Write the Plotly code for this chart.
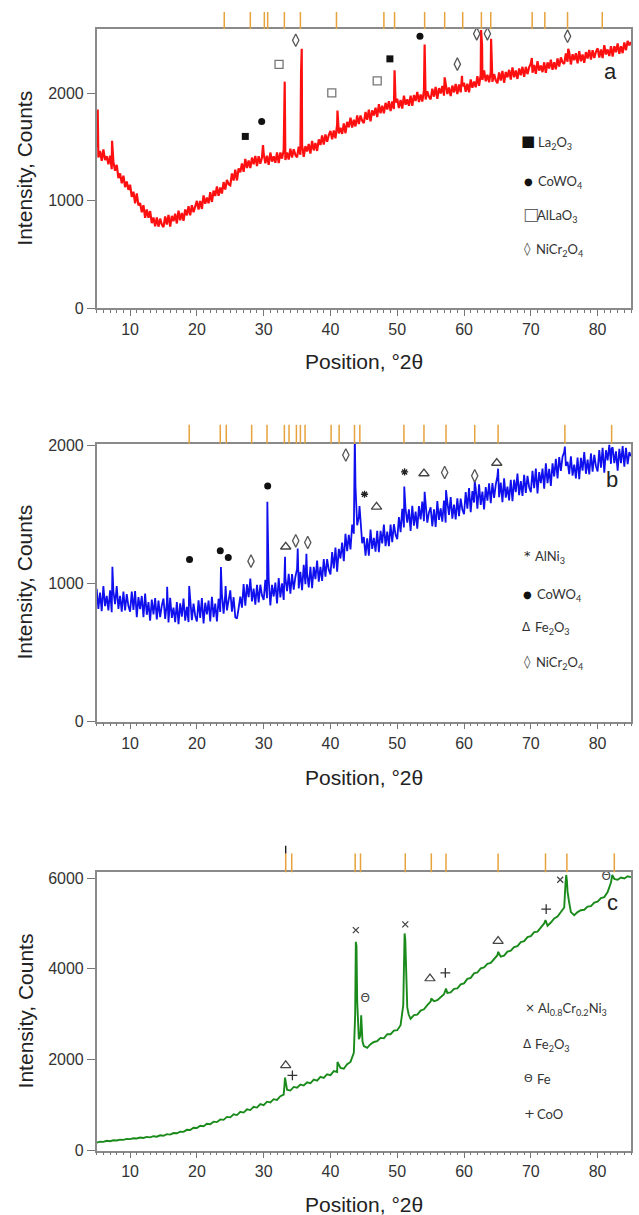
import plotly.graph_objects as go

# ---------------- data ----------------
# fine 0.25 deg scan positions (panels a, b)
grid_fine = [5.0, 5.25, 5.5, 5.75, 6.0, 6.25, 6.5, 6.75, 7.0, 7.25, 7.5, 7.75, 8.0, 8.25, 8.5, 8.75, 9.0, 9.25, 9.5, 9.75,
             10.0, 10.25, 10.5, 10.75, 11.0, 11.25, 11.5, 11.75, 12.0, 12.25, 12.5, 12.75, 13.0, 13.25, 13.5, 13.75, 14.0, 14.25, 14.5, 14.75,
             15.0, 15.25, 15.5, 15.75, 16.0, 16.25, 16.5, 16.75, 17.0, 17.25, 17.5, 17.75, 18.0, 18.25, 18.5, 18.75, 19.0, 19.25, 19.5, 19.75,
             20.0, 20.25, 20.5, 20.75, 21.0, 21.25, 21.5, 21.75, 22.0, 22.25, 22.5, 22.75, 23.0, 23.25, 23.5, 23.75, 24.0, 24.25, 24.5, 24.75,
             25.0, 25.25, 25.5, 25.75, 26.0, 26.25, 26.5, 26.75, 27.0, 27.25, 27.5, 27.75, 28.0, 28.25, 28.5, 28.75, 29.0, 29.25, 29.5, 29.75,
             30.0, 30.25, 30.5, 30.75, 31.0, 31.25, 31.5, 31.75, 32.0, 32.25, 32.5, 32.75, 33.0, 33.25, 33.5, 33.75, 34.0, 34.25, 34.5, 34.75,
             35.0, 35.25, 35.5, 35.75, 36.0, 36.25, 36.5, 36.75, 37.0, 37.25, 37.5, 37.75, 38.0, 38.25, 38.5, 38.75, 39.0, 39.25, 39.5, 39.75,
             40.0, 40.25, 40.5, 40.75, 41.0, 41.25, 41.5, 41.75, 42.0, 42.25, 42.5, 42.75, 43.0, 43.25, 43.5, 43.75, 44.0, 44.25, 44.5, 44.75,
             45.0, 45.25, 45.5, 45.75, 46.0, 46.25, 46.5, 46.75, 47.0, 47.25, 47.5, 47.75, 48.0, 48.25, 48.5, 48.75, 49.0, 49.25, 49.5, 49.75,
             50.0, 50.25, 50.5, 50.75, 51.0, 51.25, 51.5, 51.75, 52.0, 52.25, 52.5, 52.75, 53.0, 53.25, 53.5, 53.75, 54.0, 54.25, 54.5, 54.75,
             55.0, 55.25, 55.5, 55.75, 56.0, 56.25, 56.5, 56.75, 57.0, 57.25, 57.5, 57.75, 58.0, 58.25, 58.5, 58.75, 59.0, 59.25, 59.5, 59.75,
             60.0, 60.25, 60.5, 60.75, 61.0, 61.25, 61.5, 61.75, 62.0, 62.25, 62.5, 62.75, 63.0, 63.25, 63.5, 63.75, 64.0, 64.25, 64.5, 64.75,
             65.0, 65.25, 65.5, 65.75, 66.0, 66.25, 66.5, 66.75, 67.0, 67.25, 67.5, 67.75, 68.0, 68.25, 68.5, 68.75, 69.0, 69.25, 69.5, 69.75,
             70.0, 70.25, 70.5, 70.75, 71.0, 71.25, 71.5, 71.75, 72.0, 72.25, 72.5, 72.75, 73.0, 73.25, 73.5, 73.75, 74.0, 74.25, 74.5, 74.75,
             75.0, 75.25, 75.5, 75.75, 76.0, 76.25, 76.5, 76.75, 77.0, 77.25, 77.5, 77.75, 78.0, 78.25, 78.5, 78.75, 79.0, 79.25, 79.5, 79.75,
             80.0, 80.25, 80.5, 80.75, 81.0, 81.25, 81.5, 81.75, 82.0, 82.25, 82.5, 82.75, 83.0, 83.25, 83.5, 83.75, 84.0, 84.25, 84.5, 84.75,
             85.0]

# coarse 0.5 deg scan positions (panel c)
grid_coarse = [5.0, 5.5, 6.0, 6.5, 7.0, 7.5, 8.0, 8.5, 9.0, 9.5,
               10.0, 10.5, 11.0, 11.5, 12.0, 12.5, 13.0, 13.5, 14.0, 14.5,
               15.0, 15.5, 16.0, 16.5, 17.0, 17.5, 18.0, 18.5, 19.0, 19.5,
               20.0, 20.5, 21.0, 21.5, 22.0, 22.5, 23.0, 23.5, 24.0, 24.5,
               25.0, 25.5, 26.0, 26.5, 27.0, 27.5, 28.0, 28.5, 29.0, 29.5,
               30.0, 30.5, 31.0, 31.5, 32.0, 32.5, 33.0, 33.5, 34.0, 34.5,
               35.0, 35.5, 36.0, 36.5, 37.0, 37.5, 38.0, 38.5, 39.0, 39.5,
               40.0, 40.5, 41.0, 41.5, 42.0, 42.5, 43.0, 43.5, 44.0, 44.5,
               45.0, 45.5, 46.0, 46.5, 47.0, 47.5, 48.0, 48.5, 49.0, 49.5,
               50.0, 50.5, 51.0, 51.5, 52.0, 52.5, 53.0, 53.5, 54.0, 54.5,
               55.0, 55.5, 56.0, 56.5, 57.0, 57.5, 58.0, 58.5, 59.0, 59.5,
               60.0, 60.5, 61.0, 61.5, 62.0, 62.5, 63.0, 63.5, 64.0, 64.5,
               65.0, 65.5, 66.0, 66.5, 67.0, 67.5, 68.0, 68.5, 69.0, 69.5,
               70.0, 70.5, 71.0, 71.5, 72.0, 72.5, 73.0, 73.5, 74.0, 74.5,
               75.0, 75.5, 76.0, 76.5, 77.0, 77.5, 78.0, 78.5, 79.0, 79.5,
               80.0, 80.5, 81.0, 81.5, 82.0, 82.5, 83.0, 83.5, 84.0, 84.5,
               85.0]

base_a = [1500, 1403, 1465, 1373, 1480, 1380, 1415, 1340, 1420, 1295, 1365, 1280, 1335, 1213, 1255, 1163, 1235, 1128, 1180, 1103,
          1150, 1038, 1085, 978, 1070, 958, 980, 893, 960, 843, 920, 843, 905, 793, 845, 763, 845, 760, 835, 780,
          755, 855, 780, 870, 760, 860, 810, 880, 790, 908, 820, 888, 815, 920, 865, 950, 865, 960, 895, 960,
          1000, 920, 1000, 925, 1050, 973, 1030, 978, 1080, 990, 1095, 1045, 1135, 1048, 1125, 1068, 1175, 1105, 1195, 1155,
          1145, 1255, 1190, 1290, 1190, 1303, 1265, 1348, 1270, 1390, 1305, 1375, 1305, 1403, 1340, 1418, 1325, 1415, 1345, 1405,
          1440, 1350, 1420, 1335, 1450, 1365, 1415, 1355, 1450, 1353, 1450, 1393, 1475, 1380, 1450, 1385, 1485, 1403, 1480, 1428,
          1405, 1505, 1430, 1520, 1410, 1510, 1460, 1530, 1440, 1558, 1470, 1538, 1465, 1573, 1520, 1608, 1525, 1618, 1550, 1613,
          1650, 1573, 1655, 1583, 1710, 1628, 1680, 1623, 1720, 1630, 1735, 1685, 1775, 1683, 1755, 1693, 1795, 1715, 1795, 1745,
          1725, 1828, 1755, 1848, 1740, 1843, 1795, 1868, 1780, 1900, 1815, 1885, 1815, 1913, 1850, 1928, 1835, 1925, 1855, 1915,
          1950, 1865, 1940, 1860, 1980, 1895, 1945, 1885, 1980, 1885, 1985, 1930, 2015, 1920, 1990, 1925, 2025, 1943, 2020, 1968,
          1945, 2045, 1970, 2060, 1950, 2050, 2000, 2070, 1980, 2090, 1995, 2055, 1975, 2073, 2010, 2088, 1995, 2083, 2010, 2068,
          2100, 2015, 2090, 2010, 2130, 2053, 2110, 2058, 2160, 2070, 2175, 2125, 2215, 2113, 2175, 2103, 2195, 2108, 2180, 2123,
          2095, 2195, 2120, 2210, 2100, 2200, 2150, 2220, 2130, 2243, 2150, 2213, 2135, 2233, 2170, 2248, 2155, 2248, 2180, 2243,
          2280, 2193, 2265, 2183, 2300, 2213, 2260, 2198, 2290, 2193, 2290, 2233, 2315, 2220, 2290, 2225, 2325, 2250, 2335, 2290,
          2275, 2373, 2295, 2383, 2270, 2365, 2310, 2375, 2280, 2393, 2300, 2363, 2285, 2385, 2325, 2405, 2315, 2403, 2330, 2388,
          2420, 2335, 2410, 2330, 2450, 2363, 2410, 2348, 2440, 2343, 2440, 2383, 2465, 2370, 2440, 2375, 2475, 2403, 2490, 2448,
          2480]
peak_a_x = [5.15, 7.3, 29.9, 33.15, 35.6, 35.7, 41.05, 49.6, 54.1, 57.1,
            59.7, 62.55, 62.7, 64.05, 70.15, 75.6]
peak_a_y = [1850, 1560, 1520, 2110, 2200, 2415, 1840, 2215, 2455, 2150,
            2165, 2590, 2450, 2510, 2330, 2415]

base_b = [960, 816, 933, 799, 980, 835, 910, 805, 950, 791, 943, 849, 980, 815, 910, 795, 940, 804, 923, 836,
          795, 941, 808, 944, 755, 901, 813, 909, 755, 926, 773, 864, 730, 883, 775, 893, 740, 875, 755, 840,
          890, 743, 855, 718, 895, 750, 825, 720, 865, 705, 855, 760, 890, 730, 830, 720, 870, 734, 853, 766,
          725, 878, 750, 893, 710, 860, 775, 875, 725, 903, 755, 853, 725, 889, 793, 921, 780, 920, 805, 895,
          950, 795, 900, 755, 745, 820, 905, 825, 995, 839, 993, 901, 1035, 869, 963, 846, 990, 863, 990, 913,
          880, 1026, 893, 1029, 840, 990, 905, 1005, 855, 1039, 898, 1001, 880, 1041, 943, 1069, 925, 1068, 955, 1048,
          1105, 964, 1083, 951, 1135, 994, 1073, 971, 1120, 965, 1120, 1030, 1165, 1013, 1120, 1018, 1175, 1048, 1175, 1098,
          1065, 1226, 1108, 1259, 1085, 1250, 1180, 1295, 1160, 1359, 1233, 1351, 1245, 1425, 1360, 1700, 1420, 1480, 1430, 1290,
          1335, 1200, 1325, 1200, 1390, 1250, 1330, 1230, 1380, 1225, 1380, 1290, 1425, 1270, 1375, 1270, 1425, 1299, 1428, 1351,
          1320, 1480, 1370, 1540, 1405, 1535, 1440, 1535, 1380, 1561, 1418, 1519, 1395, 1559, 1463, 1591, 1450, 1573, 1440, 1513,
          1550, 1413, 1535, 1408, 1595, 1459, 1543, 1446, 1600, 1440, 1590, 1495, 1625, 1468, 1570, 1463, 1615, 1486, 1613, 1534,
          1500, 1660, 1540, 1690, 1515, 1668, 1585, 1688, 1540, 1716, 1568, 1664, 1535, 1696, 1598, 1724, 1580, 1726, 1618, 1714,
          1775, 1623, 1730, 1588, 1760, 1620, 1700, 1600, 1750, 1595, 1750, 1660, 1795, 1638, 1740, 1633, 1785, 1654, 1778, 1696,
          1660, 1814, 1688, 1831, 1650, 1805, 1725, 1830, 1685, 1868, 1725, 1828, 1705, 1869, 1773, 1901, 1760, 1914, 1813, 1916,
          1950, 1850, 1880, 1790, 1920, 1780, 1860, 1760, 1910, 1754, 1908, 1816, 1950, 1793, 1895, 1788, 1940, 1808, 1930, 1848,
          1810, 1964, 1838, 1981, 1800, 1963, 1890, 2003, 1865, 1985, 1870, 1955, 1815, 1973, 1870, 1993, 1845, 1981, 1863, 1949,
          1920]
peak_b_x = [7.35, 15.55, 18.85, 23.6, 24.3, 30.55, 33.2, 35.1, 36.4, 43.65,
            44.35, 51.05, 54.1, 57.3, 61.6, 65.1, 75.1, 82.1]
peak_b_y = [1120, 975, 980, 1118, 980, 1590, 1192, 1253, 1215, 2080,
            1560, 1700, 1662, 1674, 1740, 1830, 1990, 1975]

base_c = [175, 195, 190, 215, 205, 225, 220, 240, 235, 255,
          250, 270, 265, 285, 275, 300, 290, 315, 305, 335,
          325, 360, 350, 385, 380, 415, 410, 455, 450, 500,
          495, 545, 535, 590, 580, 635, 625, 685, 675, 740,
          730, 795, 780, 850, 835, 905, 890, 960, 945, 1020,
          1000, 1075, 1060, 1130, 1115, 1195, 1230, 1340, 1320, 1400,
          1385, 1450, 1430, 1500, 1480, 1560, 1540, 1620, 1600, 1680,
          1660, 1750, 1730, 1820, 1800, 1900, 1950, 2150, 3300, 2600,
          2300, 2260, 2340, 2390, 2410, 2480, 2470, 2560, 2560, 2640,
          2650, 2760, 4200, 3150, 2900, 2980, 2990, 3080, 3110, 3200,
          3280, 3290, 3310, 3380, 3440, 3470, 3480, 3560, 3570, 3660,
          3680, 3780, 3800, 3900, 3920, 4010, 4030, 4110, 4130, 4220,
          4300, 4270, 4290, 4380, 4400, 4480, 4500, 4590, 4610, 4700,
          4720, 4810, 4820, 4910, 5000, 4950, 5020, 5110, 5150, 5260,
          5350, 5700, 5250, 5180, 5250, 5290, 5300, 5370, 5380, 5460,
          5480, 5560, 5580, 5690, 5900, 5980, 5960, 6010, 5990, 6040,
          6020]
peak_c_x = [33.2, 41.05, 43.7, 43.8, 43.9, 44.1, 44.25, 44.4, 44.6, 44.8,
            50.9, 51.1, 51.2, 51.35, 51.7, 55.1, 57.3, 65.1, 72.2, 75.2,
            75.3, 75.4, 75.7, 82.2, 82.35]
peak_c_y = [1604, 1950, 3000, 4595, 4500, 3000, 2450, 2500, 2978, 2400,
            3200, 4780, 4650, 3900, 3000, 3346, 3567, 4375, 5074, 5900,
            6067, 5950, 5500, 6067, 6000]

# reference-pattern stick positions (above each panel)
ref_a = [24.1, 28.0, 30.1, 30.6, 33.1, 35.5, 40.9, 48.0, 49.6, 54.1, 57.1,
         59.8, 62.6, 64.0, 70.2, 72.1, 75.5, 80.7]
ref_b = [18.85, 23.5, 24.4, 28.2, 30.5, 33.1, 33.8, 34.9, 35.5, 36.2, 40.1,
         41.3, 43.6, 44.4, 51.0, 54.0, 57.3, 61.6, 65.1, 75.1, 82.1]
ref_c = [33.3, 34.2, 43.7, 44.5, 51.2, 55.1, 57.3, 65.1, 72.2, 75.4, 82.5]

# phase identification markers
a_la2o3_x, a_la2o3_y = [27.25, 48.9], [1600, 2322]
a_cowo4_x, a_cowo4_y = [29.7, 53.4], [1740, 2533]
a_allao3_x, a_allao3_y = [32.3, 40.2, 47.0], [2270, 2005, 2118]
a_nicr_x, a_nicr_y = [34.8, 59.0, 61.9, 63.5, 75.5], [2495, 2273, 2555, 2555, 2533]

b_alni3_x, b_alni3_y = [45.1, 51.1, 75.1, 82.0], [1645, 1806, 2030, 2030]
b_cowo4_x, b_cowo4_y = [18.9, 23.5, 24.7, 30.6], [1173, 1236, 1188, 1705]
b_fe2o3_x, b_fe2o3_y = [33.3, 46.9, 54.0, 64.9], [1265, 1553, 1795, 1871]
b_nicr_x, b_nicr_y = [28.1, 34.8, 36.6, 42.3, 57.1, 61.6], [1161, 1308, 1296, 1929, 1802, 1778]

c_alcrni_x, c_alcrni_y = [43.8, 51.2, 74.4], [4853, 4979, 5963]
c_fe2o3_x, c_fe2o3_y = [33.3, 54.9, 65.1], [1875, 3787, 4611]
c_fe_x, c_fe_y = [45.2, 81.3], [3331, 6016]
c_coo_x, c_coo_y = [34.3, 57.2, 72.3], [1654, 3912, 5317]

x_ticks = [10, 20, 30, 40, 50, 60, 70, 80]
y_ticks_ab = [0, 1000, 2000]
y_ticks_c = [0, 2000, 4000, 6000]

# ---------------- layout helpers ----------------
W, H = 639, 1215
AXF = "Liberation Sans"
LGF = "Lato"
SYF = "DejaVu Sans"


def merged(bx, by, px, py):
    if len(bx) != len(by) or len(px) != len(py):
        raise ValueError("length mismatch %d %d %d %d" % (len(bx), len(by), len(px), len(py)))
    pts = sorted(zip(list(bx) + list(px), list(by) + list(py)))
    return [p[0] for p in pts], [p[1] for p in pts]


def py_(p):
    return 1 - p / H


XDOM = [96.7 / W, 631.0 / W]
panels = [
    dict(top=29.0, bot=308.3, yr=[0, 2600], yt=y_ticks_ab),
    dict(top=443.5, bot=721.6, yr=[0, 2012], yt=y_ticks_ab),
    dict(top=872.3, bot=1150.5, yr=[0, 6126], yt=y_ticks_c),
]

fig = go.Figure()

series = [
    (merged(grid_fine, base_a, peak_a_x, peak_a_y), "#ff1010", 2.2),
    (merged(grid_fine, base_b, peak_b_x, peak_b_y), "#1010ee", 1.8),
    (merged(grid_coarse, base_c, peak_c_x, peak_c_y), "#1a8a1a", 1.9),
]
for i, ((xs, ys), col, lw) in enumerate(series):
    sfx = "" if i == 0 else str(i + 1)
    fig.add_trace(go.Scatter(x=xs, y=ys, mode="lines",
                             line=dict(color=col, width=lw),
                             xaxis="x" + sfx, yaxis="y" + sfx,
                             hoverinfo="skip", showlegend=False))


def mk(x, y, sfx, symbol, size, color, fill=None, lw=1.2):
    fig.add_trace(go.Scatter(
        x=x, y=y, mode="markers", xaxis="x" + sfx, yaxis="y" + sfx,
        marker=dict(symbol=symbol, size=size, color=fill if fill else color,
                    line=dict(color=color, width=lw)),
        cliponaxis=False, hoverinfo="skip", showlegend=False))


def txt(x, y, sfx, t, size, color="#333"):
    fig.add_trace(go.Scatter(
        x=x, y=y, mode="text", text=[t] * len(x), xaxis="x" + sfx, yaxis="y" + sfx,
        textfont=dict(family=SYF, size=size, color=color),
        cliponaxis=False, hoverinfo="skip", showlegend=False))


# panel a markers
mk(a_la2o3_x, a_la2o3_y, "", "square", 7, "#111", fill="#111", lw=0)
mk(a_cowo4_x, a_cowo4_y, "", "circle", 7, "#111", fill="#111", lw=0)
mk(a_allao3_x, a_allao3_y, "", "square-open", 8, "#777", lw=1.3)
mk(a_nicr_x, a_nicr_y, "", "diamond-tall-open", 9, "#555", lw=1.3)
# panel b markers
mk(b_alni3_x, b_alni3_y, "2", "asterisk-open", 6, "#222", lw=1.3)
mk(b_cowo4_x, b_cowo4_y, "2", "circle", 7, "#111", fill="#111", lw=0)
mk(b_fe2o3_x, b_fe2o3_y, "2", "triangle-up-open", 9, "#444", lw=1.3)
mk(b_nicr_x, b_nicr_y, "2", "diamond-tall-open", 9, "#555", lw=1.3)
# panel c markers
mk(c_alcrni_x, c_alcrni_y, "3", "x-thin-open", 6, "#444", lw=1.3)
mk(c_fe2o3_x, c_fe2o3_y, "3", "triangle-up-open", 9, "#444", lw=1.2)
txt(c_fe_x, c_fe_y, "3", "Θ", 12, "#444")
mk(c_coo_x, c_coo_y, "3", "cross-thin-open", 7, "#333", lw=1.3)

layout = dict(width=W, height=H, margin=dict(l=0, r=0, t=0, b=0, pad=0),
              paper_bgcolor="white", plot_bgcolor="white", showlegend=False)
shapes = []
annotations = []
for i, p in enumerate(panels):
    sfx = "" if i == 0 else str(i + 1)
    ydom = [py_(p["bot"]), py_(p["top"])]
    layout["xaxis" + sfx] = dict(
        domain=XDOM, anchor="y" + sfx, range=[5, 85], tickvals=x_ticks,
        ticks="outside", ticklen=6, tickwidth=1.2, tickcolor="#777",
        minor=dict(dtick=1, tick0=0, ticks="outside", ticklen=3, tickcolor="#777", tickwidth=1),
        showline=True, mirror=True, linecolor="#8a8a8a", linewidth=1.5,
        showgrid=False, zeroline=False, automargin=False,
        tickfont=dict(family=AXF, size=16, color="#333"))
    layout["yaxis" + sfx] = dict(
        domain=ydom, anchor="x" + sfx, range=p["yr"], tickvals=p["yt"],
        ticks="outside", ticklen=8, tickwidth=1.2, tickcolor="#777",
        showline=True, mirror=True, linecolor="#8a8a8a", linewidth=1.5,
        showgrid=False, zeroline=False, automargin=False,
        tickfont=dict(family=AXF, size=16, color="#333"))
    annotations.append(dict(text="Intensity, Counts", x=25 / W, y=py_((p["top"] + p["bot"]) / 2),
                            xref="paper", yref="paper", textangle=-90, showarrow=False,
                            xanchor="center", yanchor="middle",
                            font=dict(family=AXF, size=21, color="#222")))
    xt_y = [361.5, 777.0, 1204.0][i]
    annotations.append(dict(text="Position, °2θ", x=364 / W, y=py_(xt_y),
                            xref="paper", yref="paper", showarrow=False,
                            xanchor="center", yanchor="middle",
                            font=dict(family=AXF, size=21, color="#222")))

# reference sticks above panels
for sfx, refs, h in (("", ref_a, 1.061), ("2", ref_b, 1.067), ("3", ref_c, 1.068)):
    for v in refs:
        shapes.append(dict(type="line", xref="x" + sfx, yref="y" + sfx + " domain",
                           x0=v, x1=v, y0=1.0, y1=h,
                           line=dict(color="#e6a23c", width=1.5)))
shapes.append(dict(type="line", xref="x3", yref="y3 domain", x0=ref_c[0], x1=ref_c[0],
                   y0=1.068, y1=1.095, line=dict(color="#111", width=1.3)))


def ann(text, xp, ypx, size, color="#333", family=LGF, xanchor="left"):
    annotations.append(dict(text=text, x=xp / W, y=py_(ypx), xref="paper", yref="paper",
                            showarrow=False, xanchor=xanchor, yanchor="middle",
                            font=dict(family=family, size=size, color=color)))


# legends
ann("■", 528, 141, 15, "#111", SYF, "center"); ann("La<sub>2</sub>O<sub>3</sub>", 536, 143, 13)
ann("●", 528, 181, 10, "#111", SYF, "center"); ann("CoWO<sub>4</sub>", 536, 182, 13)
ann("□", 531, 214, 17, "#666", SYF, "center"); ann("AlLaO<sub>3</sub>", 535, 216, 13)
ann("◊", 527, 249, 13, "#444", SYF, "center"); ann("NiCr<sub>2</sub>O<sub>4</sub>", 534, 250, 13)

ann("*", 527, 555, 13, "#222", SYF, "center"); ann("AlNi<sub>3</sub>", 533, 557, 13)
ann("●", 527, 594, 10, "#111", SYF, "center"); ann("CoWO<sub>4</sub>", 535, 595, 13)
ann("Δ", 526, 627, 12, "#333", SYF, "center"); ann("Fe<sub>2</sub>O<sub>3</sub>", 533, 628, 13)
ann("◊", 527, 662, 13, "#444", SYF, "center"); ann("NiCr<sub>2</sub>O<sub>4</sub>", 534, 663, 13)

ann("×", 530, 1008, 12, "#333", SYF, "center"); ann("Al<sub>0.8</sub>Cr<sub>0.2</sub>Ni<sub>3</sub>", 536, 1009, 13)
ann("Δ", 527, 1044, 12, "#333", SYF, "center"); ann("Fe<sub>2</sub>O<sub>3</sub>", 533, 1045, 13)
ann("Θ", 528, 1078, 11, "#333", SYF, "center"); ann("Fe", 535, 1079, 13)
ann("+", 529, 1113, 13, "#333", SYF, "center"); ann("CoO", 535, 1114, 13)

# panel letters
ann("a", 610, 72, 22, "#222", AXF, "center")
ann("b", 612, 479, 22, "#222", AXF, "center")
ann("c", 612, 902, 22, "#222", AXF, "center")

layout["shapes"] = shapes
layout["annotations"] = annotations
fig.update_layout(**layout)
fig.write_html("out.html", config={"displayModeBar": False},
               post_script="document.body.style.margin='0';document.body.style.padding='0';"
                           "document.documentElement.style.overflow='hidden';")
